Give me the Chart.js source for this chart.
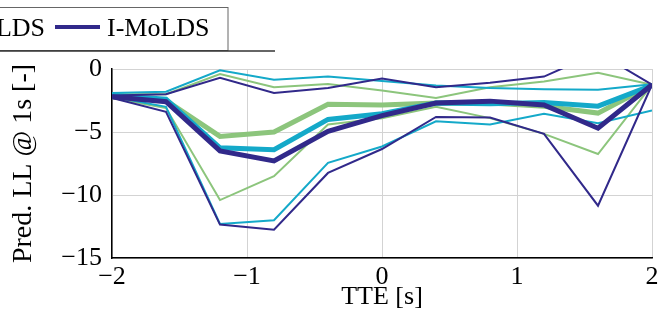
<!DOCTYPE html>
<html>
<head>
<meta charset="utf-8">
<script src="https://cdn.jsdelivr.net/npm/chart.js@4"></script>
<style>
  html, body { margin: 0; padding: 0; background: #fff; }
  #wrap { width: 671px; height: 335px; position: relative; }
</style>
</head>
<body>
<div id="wrap"><canvas id="chart"></canvas></div>
<script>
// Time to event [s]
const tte = [-2, -1.6, -1.2, -0.8, -0.4, 0, 0.4, 0.8, 1.2, 1.6, 2];

// green model: mean and bounds
const greenMean  = [-2.2, -2.5, -5.35, -5.0, -2.8, -2.85, -2.7, -2.7, -2.95, -3.5, -1.25];
const greenUpper = [-2.0, -2.0, -0.4, -1.45, -1.2, -1.7, -2.3, -1.45, -1.0, -0.3, -1.25];
const greenLower = [-2.3, -3.1, -10.4, -8.5, -4.4, -3.9, -3.0, -3.9, -5.15, -6.75, -1.25];

// cyan model: mean and bounds
const cyanMean  = [-2.1, -2.4, -6.25, -6.4, -4.0, -3.55, -2.7, -2.75, -2.65, -2.95, -1.3];
const cyanUpper = [-1.9, -1.8, -0.1, -0.85, -0.6, -0.95, -1.3, -1.5, -1.6, -1.65, -1.2];
const cyanLower = [-2.2, -3.0, -12.3, -12.0, -7.45, -6.15, -4.15, -4.4, -3.55, -4.3, -3.3];

// I-MoLDS: mean and bounds
const moldsMean  = [-2.2, -2.6, -6.5, -7.3, -4.95, -3.7, -2.7, -2.55, -2.85, -4.7, -1.25];
const moldsUpper = [-2.1, -2.0, -0.7, -1.9, -1.5, -0.75, -1.45, -1.1, -0.6, 1.3, -1.25];
const moldsLower = [-2.3, -3.4, -12.35, -12.75, -8.25, -6.35, -3.8, -3.85, -5.15, -10.85, -1.25];

const yTicks = [-15, -10, -5, 0];
const xTicks = [-2, -1, 0, 1, 2];

const GREEN = '#8cc57c';
const CYAN = '#14a9c9';
const NAVY = '#31298a';
const FONT = '"Liberation Serif", "Times New Roman", serif';

const pts = arr => arr.map((v, i) => ({ x: tte[i], y: v }));
const minus = v => String(v).replace('-', '\u2212');

function series(data, color, thick, order) {
  return {
    data: pts(data),
    borderColor: color,
    borderWidth: thick ? 5 : 2,
    pointRadius: 0,
    fill: false,
    tension: 0,
    order: order
  };
}

// clipped legend box at top-left
const legendBox = {
  id: 'legendBox',
  afterDraw(chart) {
    const ctx = chart.ctx;
    ctx.save();
    ctx.fillStyle = '#fff';
    ctx.strokeStyle = '#666';
    ctx.lineWidth = 1;
    ctx.fillRect(-5, 7, 233, 43);
    ctx.strokeRect(-5, 7.5, 233, 43);
    ctx.strokeStyle = '#333';
    ctx.lineWidth = 1.5;
    ctx.beginPath();
    ctx.moveTo(0, 51);
    ctx.lineTo(275, 51);
    ctx.stroke();
    ctx.fillStyle = '#000';
    ctx.font = '26px ' + FONT;
    ctx.textBaseline = 'alphabetic';
    ctx.textAlign = 'right';
    ctx.fillText('LDS', 45, 36);
    ctx.textAlign = 'left';
    ctx.fillText('I-MoLDS', 107, 36);
    ctx.strokeStyle = NAVY;
    ctx.lineWidth = 4;
    ctx.beginPath();
    ctx.moveTo(55, 27);
    ctx.lineTo(100, 27);
    ctx.stroke();
    ctx.restore();
  }
};

new Chart(document.getElementById('chart'), {
  type: 'line',
  data: {
    datasets: [
      series(greenUpper, GREEN, false, 9),
      series(greenLower, GREEN, false, 8),
      series(greenMean, GREEN, true, 7),
      series(cyanUpper, CYAN, false, 6),
      series(cyanLower, CYAN, false, 5),
      series(cyanMean, CYAN, true, 4),
      series(moldsUpper, NAVY, false, 3),
      series(moldsLower, NAVY, false, 2),
      series(moldsMean, NAVY, true, 1)
    ]
  },
  plugins: [legendBox],
  options: {
    responsive: true,
    maintainAspectRatio: false,
    animation: false,
    layout: { padding: { top: 69, right: 19, left: 0, bottom: 0 } },
    plugins: { legend: { display: false }, tooltip: { enabled: false } },
    scales: {
      x: {
        type: 'linear',
        min: -2,
        max: 2,
        afterBuildTicks: s => { s.ticks = xTicks.map(v => ({ value: v })); },
        afterFit: s => { s.height = 77; },
        ticks: {
          color: '#000',
          font: { family: FONT, size: 26 },
          padding: 4,
          maxRotation: 0,
          callback: v => minus(v)
        },
        grid: { color: '#d3d3d3', lineWidth: 1, drawTicks: false },
        border: { color: '#000', width: 1.5 },
        title: {
          display: true,
          text: 'TTE [s]',
          color: '#000',
          font: { family: FONT, size: 26 },
          padding: { top: 0, bottom: 22 }
        }
      },
      y: {
        min: -15,
        max: 0,
        afterBuildTicks: s => { s.ticks = yTicks.map(v => ({ value: v })); },
        afterFit: s => { s.width = 112; },
        ticks: {
          color: '#000',
          font: { family: FONT, size: 26 },
          padding: 10,
          callback: v => minus(v)
        },
        grid: { color: '#d3d3d3', lineWidth: 1, drawTicks: false },
        border: { color: '#000', width: 1.5 },
        title: {
          display: true,
          text: 'Pred. LL @ 1s [-]',
          color: '#000',
          font: { family: FONT, size: 28 },
          padding: { top: 7, bottom: 0 }
        }
      }
    }
  }
});
</script>
</body>
</html>
